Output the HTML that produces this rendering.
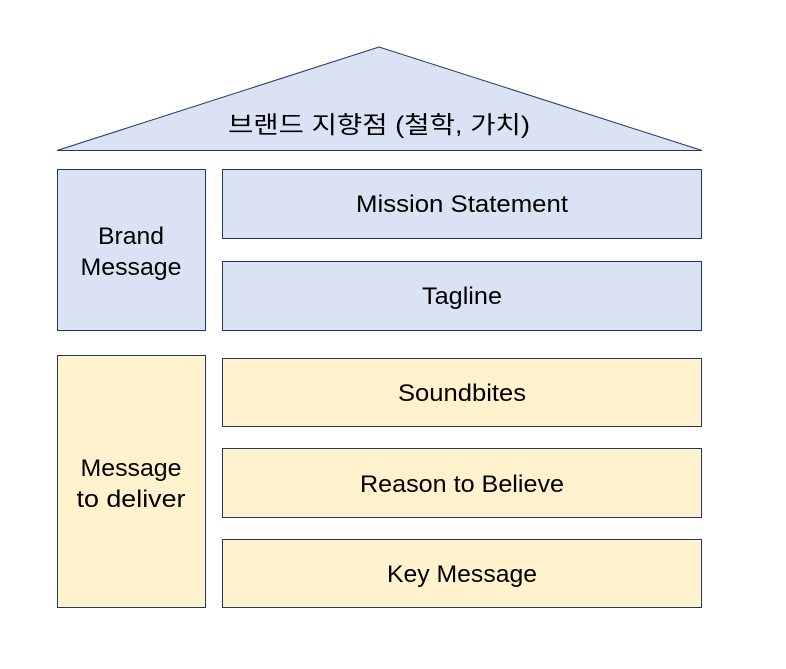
<!DOCTYPE html>
<html><head><meta charset="utf-8"><style>
body{margin:0;background:#fff;width:786px;height:664px;overflow:hidden}
</style></head><body>
<svg width="786" height="664" xmlns="http://www.w3.org/2000/svg" font-family="'Liberation Sans','Noto Sans CJK KR',sans-serif" font-size="24" text-anchor="middle" fill="#000">
<g stroke="#1f3864" stroke-width="1">
<polygon points="57,150.5 379,47 702,150.5" fill="#dae3f3"/>
<rect x="57.5" y="169.5" width="148" height="161" fill="#dae3f3"/>
<rect x="222.5" y="169.5" width="479" height="69" fill="#dae3f3"/>
<rect x="222.5" y="261.5" width="479" height="69" fill="#dae3f3"/>
<rect x="57.5" y="355.5" width="148" height="252" fill="#fff2cc"/>
<rect x="222.5" y="358.5" width="479" height="68" fill="#fff2cc"/>
<rect x="222.5" y="448.5" width="479" height="69" fill="#fff2cc"/>
<rect x="222.5" y="539.5" width="479" height="68" fill="#fff2cc"/>
</g>
<g lengthAdjust="spacingAndGlyphs">
<text x="379" y="133" textLength="302" lengthAdjust="spacingAndGlyphs">브랜드 지향점 (철학, 가치)</text>
<text x="131" y="244" textLength="66" lengthAdjust="spacingAndGlyphs">Brand</text>
<text x="131" y="275" textLength="101" lengthAdjust="spacingAndGlyphs">Message</text>
<text x="462" y="212" textLength="212" lengthAdjust="spacingAndGlyphs">Mission Statement</text>
<text x="462" y="304" textLength="80" lengthAdjust="spacingAndGlyphs">Tagline</text>
<text x="131" y="476" textLength="101" lengthAdjust="spacingAndGlyphs">Message</text>
<text x="131" y="507" textLength="109" lengthAdjust="spacingAndGlyphs">to deliver</text>
<text x="462" y="401" textLength="128" lengthAdjust="spacingAndGlyphs">Soundbites</text>
<text x="462" y="492" textLength="204" lengthAdjust="spacingAndGlyphs">Reason to Believe</text>
<text x="462" y="582" textLength="150" lengthAdjust="spacingAndGlyphs">Key Message</text>
</g>
</svg>
</body></html>
